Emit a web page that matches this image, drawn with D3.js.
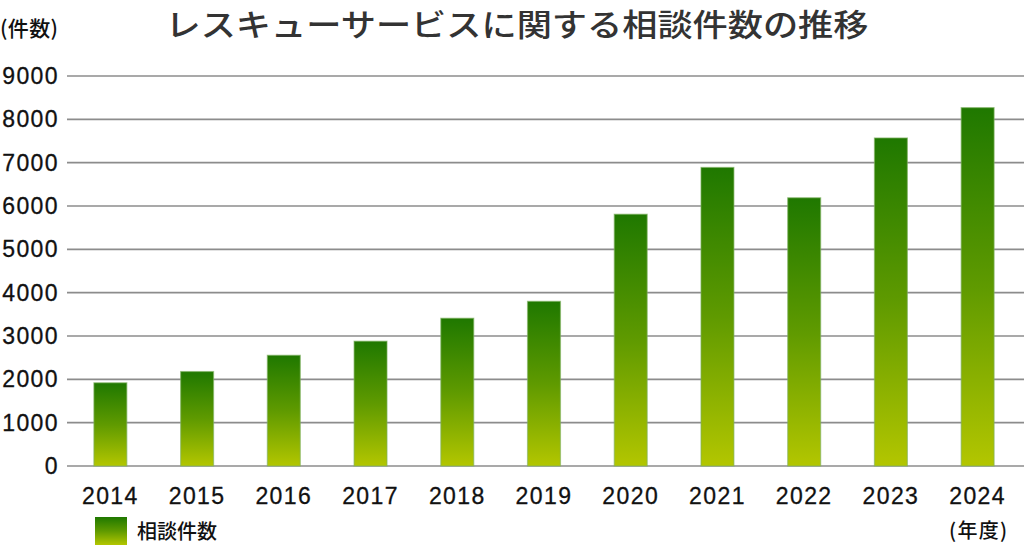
<!DOCTYPE html>
<html><head><meta charset="utf-8">
<script src="https://cdn.jsdelivr.net/npm/d3@7"></script>
<style>html,body{margin:0;padding:0;background:#fff;}svg{display:block;}</style>
</head><body>
<svg id="chart" width="1024" height="545"></svg>
<script>
const years = ["2014","2015","2016","2017","2018","2019","2020","2021","2022","2023","2024"];
const counts = [1920, 2180, 2555, 2880, 3410, 3800, 5810, 6890, 6190, 7570, 8270];
const yTicks = [0,1000,2000,3000,4000,5000,6000,7000,8000,9000];
const title = "レスキューサービスに関する相談件数の推移";
const seriesName = "相談件数";

const svg = d3.select("#chart");
const jp = "'Noto Sans CJK JP', sans-serif";
const num = "'Liberation Sans', Arial, sans-serif";

const x = d3.scaleBand().domain(years).range([67, 1021]).paddingInner(0.62).paddingOuter(0.31);
const y = d3.scaleLinear().domain([0, 9000]).range([466, 76]);

const defs = svg.append("defs");
const grad = defs.append("linearGradient").attr("id","g").attr("x1",0).attr("y1",0).attr("x2",0).attr("y2",1);
grad.append("stop").attr("offset","0%").attr("stop-color","#1f7800");
grad.append("stop").attr("offset","50%").attr("stop-color","#5f9a00");
grad.append("stop").attr("offset","100%").attr("stop-color","#b3c600");

// gridlines
svg.append("g").selectAll("line").data(yTicks).join("line")
  .attr("x1",67).attr("x2",1024)
  .attr("y1",d=>y(d)).attr("y2",d=>y(d))
  .attr("stroke","#8c8c8c").attr("stroke-width",1.6);

// y labels
svg.append("g").selectAll("text").data(yTicks).join("text")
  .attr("x",59).attr("y",d=>y(d)).attr("dy","0.35em")
  .attr("text-anchor","end")
  .attr("font-family",num).attr("font-size",23).attr("letter-spacing",1.4)
  .attr("stroke","#111").attr("stroke-width",0.3)
  .attr("fill","#111").text(d=>d);

// bars
svg.append("g").selectAll("rect").data(counts).join("rect")
  .attr("x",(d,i)=>x(years[i])).attr("width",x.bandwidth())
  .attr("y",d=>y(d)).attr("height",d=>y(0)-y(d))
  .attr("fill","url(#g)")
  .attr("stroke","#7fb060").attr("stroke-opacity",0.6).attr("stroke-width",1.2);

// x labels
svg.append("g").selectAll("text").data(years).join("text")
  .attr("x",d=>x(d)+x.bandwidth()/2).attr("y",504)
  .attr("text-anchor","middle")
  .attr("font-family",num).attr("font-size",23).attr("letter-spacing",1.4)
  .attr("stroke","#111").attr("stroke-width",0.3)
  .attr("fill","#111").text(d=>d);

// title
svg.append("text").attr("x",517).attr("y",36).attr("text-anchor","middle")
  .attr("font-family",jp).attr("font-size",31).attr("font-weight",500)
  .attr("fill","#333").attr("textLength",703).attr("lengthAdjust","spacingAndGlyphs")
  .text(title);

// axis unit labels
svg.append("text").attr("x",0).attr("y",36)
  .attr("font-family",jp).attr("font-size",21).attr("font-weight",500)
  .attr("fill","#111").attr("textLength",58).text("(件数)");
svg.append("text").attr("x",949).attr("y",538)
  .attr("font-family",jp).attr("font-size",20).attr("font-weight",500)
  .attr("fill","#111").attr("textLength",58).text("(年度)");

// legend
svg.append("rect").attr("x",95).attr("y",517).attr("width",32).attr("height",28)
  .attr("fill","url(#g)");
svg.append("text").attr("x",137).attr("y",539)
  .attr("font-family",jp).attr("font-size",20).attr("font-weight",500)
  .attr("fill","#111").text(seriesName);
</script>
</body></html>
